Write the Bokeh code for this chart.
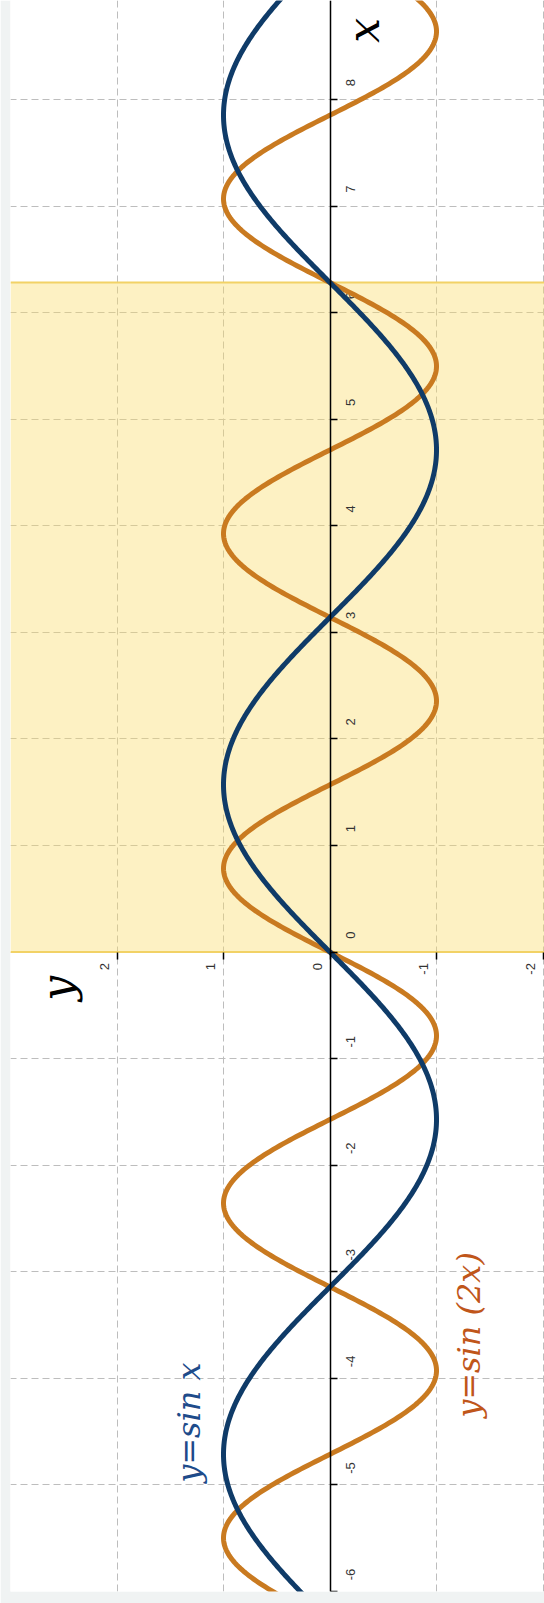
import numpy as np
from bokeh.plotting import figure
from bokeh.models import (Range1d, LinearAxis, FixedTicker, BoxAnnotation, Span, Label,
                          ColumnDataSource, CustomJSTickFormatter)
from bokeh.core.properties import value
from bokeh.embed import file_html
from bokeh.resources import INLINE

# Argument values of the two functions (the graph is turned on its side:
# the argument runs upward, the function value runs to the left).
x_vals = np.linspace(-6.3, 9.2, 900)
sin_x = np.sin(x_vals)
sin_2x = np.sin(2 * x_vals)

# Ticks and labels
x_ticks = list(range(-6, 9))
x_tick_labels = [str(t) for t in x_ticks]
y_ticks = [2, 1, 0, -1, -2]
y_tick_labels = [str(t) for t in y_ticks]
y_grid = [3, 2, 1, 0, -1, -2]

# Highlighted period of sin x
shade_from = 0.0
shade_to = 2 * np.pi

BLUE = "#0f3b68"
ORANGE = "#c97a20"

p = figure(width=544, height=1603,
           x_range=Range1d(3, -2.014), y_range=Range1d(-6, 8.93),
           x_axis_location=None, y_axis_location=None,
           toolbar_location=None, output_backend="svg",
           min_border_left=10, min_border_right=0, min_border_top=0, min_border_bottom=12)
p.background_fill_color = "white"
p.border_fill_color = "#f0f3f3"
p.outline_line_color = None

# dashed grid
p.xgrid.ticker = FixedTicker(ticks=y_grid)
p.ygrid.ticker = FixedTicker(ticks=x_ticks)
for g in (p.xgrid, p.ygrid):
    g.grid_line_color = "#bdbdbd"
    g.grid_line_dash = "7 4"
    g.grid_line_width = 1

# shaded band over one period
band = BoxAnnotation(bottom=shade_from, top=shade_to, fill_color="#f9dc6a", fill_alpha=0.4,
                     line_color=None, level="underlay")
p.add_layout(band)
for loc in (shade_from, shade_to):
    p.add_layout(Span(location=loc, dimension="width", line_color="#f2d266",
                      line_width=2, level="underlay"))

blank = CustomJSTickFormatter(code="return ''")

# argument axis: vertical line through value 0
arg_axis = LinearAxis(fixed_location=0, ticker=FixedTicker(ticks=x_ticks), formatter=blank,
                      axis_line_color="black", axis_line_width=1.5,
                      major_tick_in=0, major_tick_out=7, major_tick_line_color="black",
                      major_tick_line_width=1.5, minor_tick_line_color=None)
p.add_layout(arg_axis, "right")

# value axis: horizontal line through argument 0
val_axis = LinearAxis(fixed_location=0, ticker=FixedTicker(ticks=y_ticks), formatter=blank,
                      axis_line_color=None,
                      major_tick_in=0, major_tick_out=7, major_tick_line_color="black",
                      major_tick_line_width=1.5, minor_tick_line_color=None)
p.add_layout(val_axis, "below")

# tick labels, turned with the graph
xt_src = ColumnDataSource(dict(v=[0] * len(x_ticks), a=x_ticks, t=x_tick_labels))
p.text(x="v", y="a", text="t", source=xt_src, angle=np.pi / 2,
       text_align="center", text_baseline="middle", x_offset=20, y_offset=-17,
       text_font=value("Liberation Sans"), text_font_size="13px", text_color="#333333")

yt_src = ColumnDataSource(dict(v=y_ticks, a=[0] * len(y_ticks), t=y_tick_labels))
p.text(x="v", y="a", text="t", source=yt_src, angle=np.pi / 2,
       text_align="right", text_baseline="middle", x_offset=-13, y_offset=11,
       text_font=value("Liberation Sans"), text_font_size="13px", text_color="#333333")

# curves
p.line(x=sin_2x, y=x_vals, line_color=ORANGE, line_width=5, line_cap="round", line_join="round")
p.line(x=sin_x, y=x_vals, line_color=BLUE, line_width=5, line_cap="round", line_join="round")

# axis names
p.add_layout(Label(x=-0.31, y=8.65, text="x", angle=np.pi / 2, text_align="center",
                   text_baseline="middle", text_font="DejaVu Serif", text_font_style="italic",
                   text_font_size="44px", text_color="black"))
p.add_layout(Label(x=2.56, y=-0.34, text="y", angle=np.pi / 2, text_align="center",
                   text_baseline="middle", text_font="DejaVu Serif", text_font_style="italic",
                   text_font_size="44px", text_color="black"))

# curve names
p.add_layout(Label(x=1.32, y=-4.98, text="y=sin x", angle=np.pi / 2, text_align="left",
                   text_baseline="middle", text_font="DejaVu Serif", text_font_style="italic",
                   text_font_size="32px", text_color="#1e4b8a"))
p.add_layout(Label(x=-1.305, y=-4.37, text="y=sin (2x)", angle=np.pi / 2, text_align="left",
                   text_baseline="middle", text_font="DejaVu Serif", text_font_style="italic",
                   text_font_size="32px", text_color="#c0561a"))

open("out.html", "w").write(file_html(p, INLINE))
